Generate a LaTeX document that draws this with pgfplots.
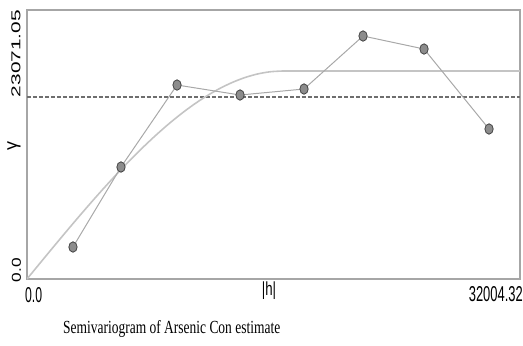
\documentclass[border=0pt]{standalone}
\usepackage{pgfplots}
\pgfplotsset{compat=1.18}
\usepackage{fontspec}
\setmainfont{Liberation Sans}
\newfontfamily\serifcap{Liberation Serif}
\definecolor{dataline}{HTML}{A8A8A8}
\definecolor{modelline}{HTML}{C4C4C4}
\definecolor{dashline}{HTML}{6E6E6E}
\definecolor{markfill}{HTML}{8C8C8C}
\definecolor{markdraw}{HTML}{454545}
\definecolor{frame}{HTML}{A6A6A6}
\begin{document}
\begin{tikzpicture}[x=1bp,y=1bp]
\path[use as bounding box] (0,0) rectangle (523,345);
\begin{axis}[
  at={(27bp,66bp)}, anchor=south west,
  scale only axis, width=493bp, height=269bp,
  xmin=0, xmax=32004.32, ymin=0, ymax=34100,
  xtick=\empty, ytick=\empty,
  axis line style={draw=frame, line width=1.1pt},
]
% sample variance (dashed)
\addplot[dashline, line width=2.4pt, dash pattern=on 4pt off 2pt] coordinates {(0,23071.05) (32004.32,23071.05)};
% fitted spherical model
\addplot[modelline, line width=1.6pt, smooth] coordinates {
(0,0) (831,1976) (1662,3942) (2493,5888) (3324,7805) (4155,9682) (4986,11510)
(5817,13278) (6648,14977) (7479,16597) (8310,18128) (9141,19560) (9972,20883)
(10803,22088) (11634,23164) (12465,24102) (13296,24891) (14127,25523)
(14958,25986) (15789,26271) (16620,26368)};
\addplot[modelline, line width=1.6pt] coordinates {(16620,26368) (32004.32,26368)};
% empirical semivariogram
\addplot[dataline, line width=1pt, mark=*, mark size=5.2bp,
  mark options={xscale=0.8, fill=markfill, draw=markdraw, line width=0.8pt}] coordinates {
(2986,4056) (6102,14197) (9738,24591) (13828,23324) (17982,24084)
(21813,30803) (25773,29155) (29992,19014)};
\end{axis}
% tick labels
\node[anchor=west, inner sep=0] at (25,49.5) {\resizebox{17bp}{15bp}{0.0}};
\node[anchor=east, inner sep=0] at (523,50.5) {\resizebox{54bp}{15bp}{32004.32}};
\node[inner sep=0] at (269,54) {\scalebox{0.7}[1]{\fontsize{19}{19}\selectfont |h|}};
\node[rotate=90, inner sep=0] at (16.5,75) {\resizebox{24bp}{9bp}{0.0}};
\node[rotate=90, inner sep=0] at (16,291.5) {\resizebox{87bp}{9bp}{23071.05}};
\node[rotate=90, inner sep=0] at (14,199) {\fontsize{18}{18}\selectfont γ};
\node[anchor=base west, inner sep=0] at (63,12) {\resizebox{217bp}{13bp}{\serifcap Semivariogram of Arsenic Con estimate}};
\end{tikzpicture}
\end{document}
